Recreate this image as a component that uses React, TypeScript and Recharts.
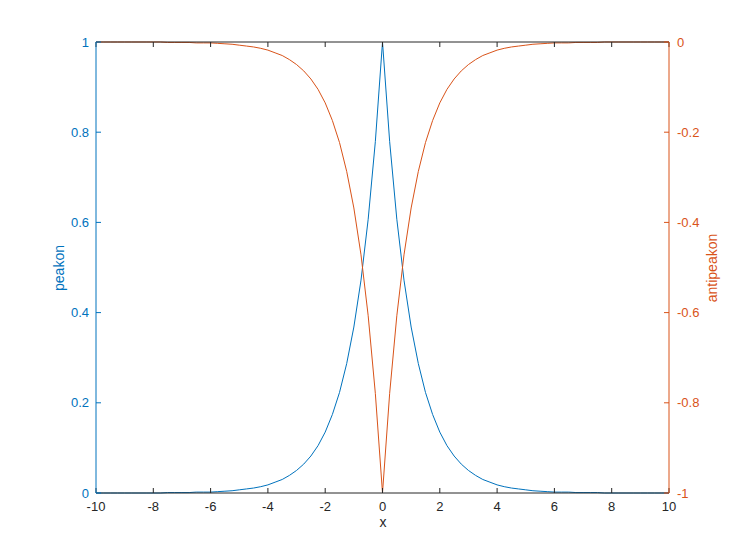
import { Label, Line, LineChart, XAxis, YAxis } from 'recharts'

const xValues = [
  -10, -9.75, -9.5, -9.25, -9, -8.75, -8.5, -8.25, -8, -7.75, -7.5, -7.25, -7, -6.75, -6.5, -6.25,
  -6, -5.75, -5.5, -5.25, -5, -4.75, -4.5, -4.25, -4, -3.75, -3.5, -3.25, -3, -2.75, -2.5, -2.25,
  -2, -1.75, -1.5, -1.25, -1, -0.75, -0.5, -0.25, 0, 0.25, 0.5, 0.75, 1, 1.25, 1.5, 1.75, 2, 2.25,
  2.5, 2.75, 3, 3.25, 3.5, 3.75, 4, 4.25, 4.5, 4.75, 5, 5.25, 5.5, 5.75, 6, 6.25, 6.5, 6.75, 7, 7.25,
  7.5, 7.75, 8, 8.25, 8.5, 8.75, 9, 9.25, 9.5, 9.75, 10,
]

const peakon = [
  0, 0, 0, 0, 0, 0, 0, 0, 0, 0, 0.001, 0.001, 0.001, 0.001, 0.002, 0.002,
  0.002, 0.003, 0.004, 0.005, 0.007, 0.009, 0.011, 0.014, 0.018, 0.024, 0.03, 0.039, 0.05, 0.064, 0.082, 0.105,
  0.135, 0.174, 0.223, 0.287, 0.368, 0.472, 0.607, 0.779, 1, 0.779, 0.607, 0.472, 0.368, 0.287, 0.223, 0.174, 0.135, 0.105,
  0.082, 0.064, 0.05, 0.039, 0.03, 0.024, 0.018, 0.014, 0.011, 0.009, 0.007, 0.005, 0.004, 0.003, 0.002, 0.002, 0.002, 0.001, 0.001, 0.001,
  0.001, 0, 0, 0, 0, 0, 0, 0, 0, 0, 0,
]

const antipeakon = [
  0, 0, 0, 0, 0, 0, 0, 0, 0, 0, -0.001, -0.001, -0.001, -0.001, -0.002, -0.002,
  -0.002, -0.003, -0.004, -0.005, -0.007, -0.009, -0.011, -0.014, -0.018, -0.024, -0.03, -0.039, -0.05, -0.064, -0.082, -0.105,
  -0.135, -0.174, -0.223, -0.287, -0.368, -0.472, -0.607, -0.779, -1, -0.779, -0.607, -0.472, -0.368, -0.287, -0.223, -0.174, -0.135, -0.105,
  -0.082, -0.064, -0.05, -0.039, -0.03, -0.024, -0.018, -0.014, -0.011, -0.009, -0.007, -0.005, -0.004, -0.003, -0.002, -0.002, -0.002, -0.001, -0.001, -0.001,
  -0.001, 0, 0, 0, 0, 0, 0, 0, 0, 0, 0,
]

const xTicks = [-10, -8, -6, -4, -2, 0, 2, 4, 6, 8, 10]
const leftTicks = [0, 0.2, 0.4, 0.6, 0.8, 1]
const rightTicks = [-1, -0.8, -0.6, -0.4, -0.2, 0]

const BLUE = '#0072BD'
const ORANGE = '#D95319'
const DARK = '#262626'
const FONT = '"Liberation Sans", Arial, sans-serif'

const data = xValues.map((x, i) => ({ x, peakon: peakon[i], antipeakon: antipeakon[i] }))

export default function App() {
  return (
    <div style={{ position: 'absolute', left: 0, top: 0, background: '#fff' }}>
      <LineChart
        width={740}
        height={555}
        data={data}
        margin={{ top: 12, right: 0, bottom: 0, left: 0 }}
        style={{ fontFamily: FONT }}
      >
        <XAxis
          xAxisId="top"
          orientation="top"
          dataKey="x"
          type="number"
          domain={[-10, 10]}
          ticks={xTicks}
          height={30}
          tickSize={-5}
          tick={() => <g />}
          stroke={DARK}
          axisLine={{ stroke: DARK }}
        />
        <XAxis
          dataKey="x"
          type="number"
          domain={[-10, 10]}
          ticks={xTicks}
          height={62}
          tickSize={-5}
          tickMargin={14}
          stroke={DARK}
          tick={{ fill: DARK, fontSize: 13 }}
        >
          <Label
            content={() => (
              <text x={383} y={527} textAnchor="middle" fill={DARK} fontSize={14}>
                x
              </text>
            )}
          />
        </XAxis>
        <YAxis
          yAxisId="left"
          domain={[0, 1]}
          ticks={leftTicks}
          width={96}
          tickSize={-5}
          tickMargin={12}
          stroke={BLUE}
          tick={{ fill: BLUE, fontSize: 13 }}
        >
          <Label
            content={() => (
              <text
                transform="translate(64,268) rotate(-90)"
                textAnchor="middle"
                fill={BLUE}
                fontSize={14}
              >
                peakon
              </text>
            )}
          />
        </YAxis>
        <YAxis
          yAxisId="right"
          orientation="right"
          domain={[-1, 0]}
          ticks={rightTicks}
          width={71}
          tickSize={-5}
          tickMargin={13}
          stroke={ORANGE}
          tick={{ fill: ORANGE, fontSize: 13 }}
        >
          <Label
            content={() => (
              <text
                transform="translate(717,268) rotate(-90)"
                textAnchor="middle"
                fill={ORANGE}
                fontSize={14}
              >
                antipeakon
              </text>
            )}
          />
        </YAxis>
        <Line
          yAxisId="left"
          dataKey="peakon"
          type="linear"
          stroke={BLUE}
          strokeWidth={1}
          dot={false}
          isAnimationActive={false}
        />
        <Line
          yAxisId="right"
          dataKey="antipeakon"
          type="linear"
          stroke={ORANGE}
          strokeWidth={1}
          dot={false}
          isAnimationActive={false}
        />
      </LineChart>
    </div>
  )
}
